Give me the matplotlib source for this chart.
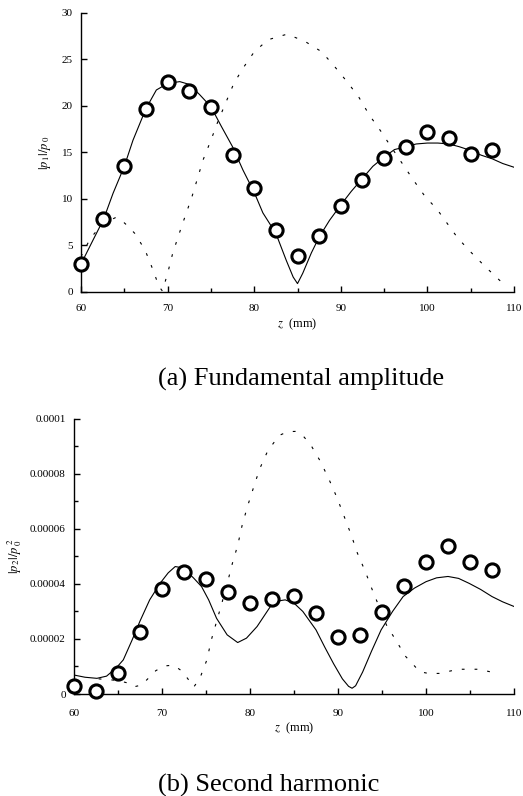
import numpy as np
import matplotlib
matplotlib.use("Agg")
import matplotlib.pyplot as plt
from matplotlib.ticker import MultipleLocator, FuncFormatter

plt.rcParams['font.family'] = ['Liberation Serif', 'DejaVu Serif']
plt.rcParams['mathtext.fontset'] = 'stix'

# measured points (z in mm)
z_meas = [60, 62.5, 65, 67.5, 70, 72.5, 75, 77.5, 80, 82.5, 85, 87.5,
          90, 92.5, 95, 97.5, 100, 102.5, 105, 107.5]
p1_meas = [3.0, 7.8, 13.5, 19.7, 22.6, 21.6, 19.9, 14.7, 11.2, 6.7, 3.9, 6.05,
           9.2, 12.0, 14.4, 15.55, 17.2, 16.5, 14.8, 15.2]
p2_meas = [2.9, 1.2, 7.5, 22.7, 38.0, 44.5, 41.7, 37.2, 33.0, 34.5, 35.7, 29.3,
           20.6, 21.5, 29.9, 39.3, 47.9, 53.6, 48.1, 45.1]  # x 1e-6

# computed curve, fundamental (solid)
z_a_solid = [60, 61.4, 62.6, 63.7, 65, 66.0, 67.5, 68.7, 70, 71.4, 72.5, 73.7, 75,
             76.2, 77.5, 78.7, 80, 81.0, 82.5, 83.7, 84.5, 85, 85.6, 86.6, 87.5,
             88.7, 90, 91.2, 92.5, 93.7, 95, 96.2, 97.5, 98.7, 100, 101.2, 102.5,
             103.7, 105, 106.2, 107.5, 108.7, 110]
p1_solid = [3.0, 5.6, 7.8, 10.6, 13.5, 16.3, 19.7, 21.7, 22.4, 22.6, 22.3, 21.2, 19.9,
            17.8, 15.6, 13.1, 10.7, 8.5, 6.3, 3.4, 1.6, 0.9, 2.0, 4.2, 5.9,
            7.7, 9.35, 10.8, 12.2, 13.5, 14.5, 15.3, 15.6, 15.9, 16.0, 16.0, 15.9,
            15.6, 15.2, 14.7, 14.3, 13.8, 13.4]

# second curve, fundamental (dashed)
z_a_dash = [60, 61.1, 62.5, 64.0, 64.5, 65.5, 66.2, 67.4, 68.3, 69.0, 69.4, 70.0,
            70.6, 71.6, 72.8, 74.1, 75.0, 75.8, 77.6, 78.6, 80.0, 81.6, 83.8, 85.9,
            87.8, 89.3, 90.8, 92.1, 93.3, 94.6, 95.8, 97.1, 98.4, 99.7, 101.1,
            103.5, 105.1, 106.7, 108.4, 108.7]
p1_dash = [3.8, 5.8, 7.3, 8.0, 7.85, 7.0, 6.3, 4.5, 2.4, 0.6, 0.1, 2.0,
           4.2, 7.0, 10.2, 14.2, 16.3, 18.3, 22.3, 23.9, 25.8, 27.1, 27.7, 26.9,
           25.8, 24.2, 22.5, 20.9, 19.0, 17.3, 15.6, 13.8, 12.0, 10.3, 8.9,
           5.8, 4.2, 2.7, 1.2, 0.9]

# computed curve, second harmonic (solid), x 1e-6
z_b_solid = [60, 61.25, 62.6, 63.7, 64.8, 65.6, 66.6, 67.5, 68.6, 69.8,
             70.7, 71.5, 72.4, 73.6, 74.5, 75.3, 76.2, 77.4, 78.6,
             79.6, 80.8, 82.3, 83.2, 84.0, 85.0, 86.0, 87.5, 88.5, 89.5,
             90.5, 91.2, 91.6, 92.0, 92.8, 93.8, 94.9, 96.2, 97.4, 98.7, 100.0,
             101.2, 102.5, 103.7, 104.9, 106.2, 107.5, 108.7, 110]
p2_solid = [6.9, 6.1, 5.7, 6.5, 9.5, 12.4, 19.6, 26.5, 34.2, 40.3,
            44.0, 46.3, 45.8, 42.1, 39.0, 34.2, 27.5, 21.5, 18.7,
            20.3, 24.5, 31.7, 33.8, 34.2, 33.0, 30.0, 23.3, 17.0, 11.0,
            5.5, 2.8, 2.1, 3.0, 8.0, 15.5, 23.3, 30.0, 35.4, 38.5, 40.8,
            42.2, 42.7, 42.0, 40.2, 38.0, 35.4, 33.5, 31.8]

# second curve, second harmonic (dashed), x 1e-6
z_b_dash = [62.8, 63.7, 65.0, 66.0, 66.8, 67.7, 69.3, 70.3, 71.3, 72.2, 72.9, 73.6,
            74.3, 75.1, 75.6, 76.2, 76.8, 77.4, 78.0, 78.6, 79.1, 79.7, 80.4,
            81.1, 82.0, 83.3, 84.3, 85.3, 86.1, 86.9, 88.0, 89.0, 89.9, 90.7,
            91.5, 92.2, 93.1, 93.9, 94.7, 95.5, 96.6, 97.7, 99.3, 100.4, 101.5,
            103.7, 106.0, 108.1]
p2_dash = [5.5, 5.3, 4.9, 4.1, 2.6, 3.3, 8.5, 10.2, 10.5, 8.5, 5.7, 2.5,
           5.7, 12.4, 19.6, 26.3, 33.0, 40.0, 47.5, 54.0, 61.2, 68.0, 75.0,
           81.8, 88.2, 93.9, 95.3, 95.4, 93.5, 90.5, 84.5, 77.8, 71.2, 64.5,
           57.8, 51.2, 44.5, 37.8, 31.5, 25.1, 19.4, 13.6, 8.1, 7.4, 7.5,
           9.0, 9.0, 7.5]

fig = plt.figure(figsize=(5.23, 7.96), dpi=100)
ax_a = fig.add_axes([0.1549, 0.6332, 0.8279, 0.3508])
ax_b = fig.add_axes([0.1415, 0.1281, 0.8413, 0.3459])

dash = (0, (2.5, 9))
mk = dict(ls='none', marker='o', ms=9.5, mfc='white', mec='black', mew=2.2,
          clip_on=False, zorder=5)


def style(ax, xpad):
    for s in ('top', 'right'):
        ax.spines[s].set_visible(False)
    for s in ('left', 'bottom'):
        ax.spines[s].set_linewidth(1.0)
    ax.tick_params(which='both', direction='in', labelsize=8, width=1.0)
    ax.tick_params(which='major', length=4)
    ax.tick_params(which='minor', length=3)
    ax.tick_params(axis='y', pad=6)
    ax.tick_params(axis='x', pad=xpad)
    ax.set_xlim(60, 110)
    ax.xaxis.set_major_locator(MultipleLocator(10))
    ax.xaxis.set_minor_locator(MultipleLocator(5))
    ax.set_xlabel(r'$z$  (mm)', fontsize=9, labelpad=2)


# (a) fundamental
ax_a.plot(z_a_solid, p1_solid, color='black', lw=0.8)
ax_a.plot(z_a_dash, p1_dash, color='black', lw=0.8, ls=dash)
ax_a.plot(z_meas, p1_meas, **mk)
style(ax_a, 9)
ax_a.set_ylim(0, 30)
ax_a.yaxis.set_major_locator(MultipleLocator(5))
ax_a.set_ylabel(r'$|p_{\,1}|/p_{\,0}$', fontsize=9, labelpad=6.5)

# (b) second harmonic
scale = 1e-6
ax_b.plot(z_b_solid, np.array(p2_solid) * scale, color='black', lw=0.8)
ax_b.plot(z_b_dash, np.array(p2_dash) * scale, color='black', lw=0.8, ls=dash)
ax_b.plot(z_meas, np.array(p2_meas) * scale, **mk)
style(ax_b, 10.5)
ax_b.set_ylim(0, 1e-4)
ax_b.yaxis.set_major_locator(MultipleLocator(2e-5))
ax_b.yaxis.set_minor_locator(MultipleLocator(1e-5))
ax_b.yaxis.set_major_formatter(FuncFormatter(
    lambda v, pos: '0' if abs(v) < 1e-12 else f'{v:.5f}'.rstrip('0')))
ax_b.set_ylabel(r'$|p_{\,2}|/p_{\,0}^{\;2}$', fontsize=9, labelpad=4)

fig.text(0.5755, 1 - 379 / 796, '(a) Fundamental amplitude', fontsize=19,
         ha='center', va='center')
fig.text(0.514, 1 - 785 / 796, '(b) Second harmonic', fontsize=19,
         ha='center', va='center')

fig.savefig('out.png', dpi=100)
